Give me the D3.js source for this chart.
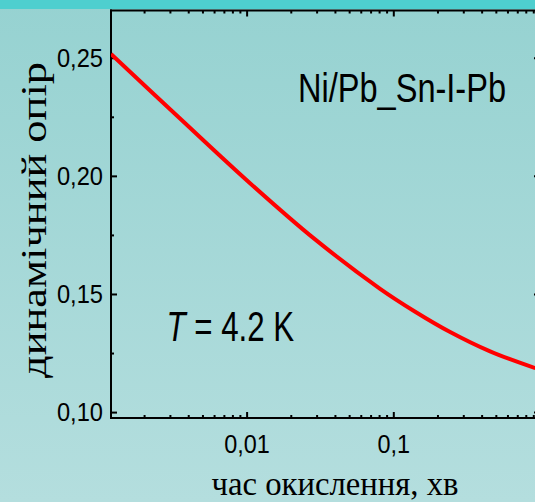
<!DOCTYPE html>
<html><head><meta charset="utf-8">
<script src="https://cdn.jsdelivr.net/npm/d3@7"></script>
<style>html,body{margin:0;padding:0;overflow:hidden;background:#a6d8d8}</style>
</head><body>
<svg id="c" width="535" height="502" xmlns="http://www.w3.org/2000/svg"></svg>
<script>
// ---- data ----
const time = [0.00119, 0.0035, 0.0106, 0.0293, 0.0813, 0.141, 0.244, 0.457, 0.93];
const resistance = [0.2516, 0.2244, 0.1968, 0.1731, 0.1522, 0.1425, 0.1339, 0.1257, 0.1186];
const yMajor = [0.10, 0.15, 0.20, 0.25];
const yMinor = [0.125, 0.175, 0.225];
const yLabels = ["0,10", "0,15", "0,20", "0,25"];
const xMajor = [0.01, 0.1];
const xLabels = ["0,01", "0,1"];
const xMinor = [0.002,0.003,0.004,0.005,0.006,0.007,0.008,0.009,
                0.02,0.03,0.04,0.05,0.06,0.07,0.08,0.09,
                0.2,0.3,0.4,0.5,0.6,0.7,0.8,0.9];
const xTitle = "час окислення, хв";
const yTitle = "динамічний опір";
const sampleLabel = "Ni/Pb_Sn-I-Pb";

const W = 535, H = 502;
const L = 111, R = 540, T = 10.5, B = 418;
const svg = d3.select("#c");

const defs = svg.append("defs");
const g = defs.append("linearGradient").attr("id","bg").attr("x1",0).attr("y1",0).attr("x2",0).attr("y2",1);
g.append("stop").attr("offset","0%").attr("stop-color","#96d2d1");
g.append("stop").attr("offset","100%").attr("stop-color","#b4dede");
svg.append("rect").attr("width",W).attr("height",H).attr("fill","url(#bg)");
svg.append("rect").attr("width",W).attr("height",9).attr("fill","#4ecfcf");

const x = d3.scaleLog().domain([0.00119, 1]).range([L, R]);
const y = d3.scaleLinear().domain([0.0975, 0.27]).range([B, T]);

const sansFont = "'Liberation Sans', Arial, sans-serif";
const serifFont = "'Liberation Serif', 'Times New Roman', serif";

function styleAxis(sel){
  sel.select(".domain").remove();
  sel.selectAll("line").attr("stroke","#000").attr("stroke-width",2);
  sel.selectAll("text").attr("fill","#000").attr("font-family",sansFont).attr("font-size",26);
}
function condense(sel, f){
  sel.selectAll("text").each(function(){
    const w = this.getComputedTextLength();
    if (w>0) d3.select(this).attr("textLength", w*f).attr("lengthAdjust","spacingAndGlyphs");
  });
}

// left axis
const yl = svg.append("g").attr("transform",`translate(${L},0)`)
  .call(d3.axisLeft(y).tickValues(yMajor).tickSize(-6).tickPadding(8)
    .tickFormat((d,i)=>yLabels[i]));
styleAxis(yl); condense(yl, 0.91);
const ylm = svg.append("g").attr("transform",`translate(${L},0)`)
  .call(d3.axisLeft(y).tickValues(yMinor).tickSize(-3).tickFormat(""));
styleAxis(ylm);
// right axis (mostly outside the window, only tick ends show)
const yr = svg.append("g").attr("transform",`translate(${R},0)`)
  .call(d3.axisRight(y).tickValues(yMajor).tickSize(-6).tickFormat(""));
styleAxis(yr);
const yrm = svg.append("g").attr("transform",`translate(${R},0)`)
  .call(d3.axisRight(y).tickValues(yMinor).tickSize(-3).tickFormat(""));
styleAxis(yrm);

// bottom axis
const xb = svg.append("g").attr("transform",`translate(0,${B})`)
  .call(d3.axisBottom(x).tickValues(xMajor).tickSize(-6).tickPadding(17)
    .tickFormat((d,i)=>xLabels[i]));
styleAxis(xb); condense(xb, 0.9);
const xbm = svg.append("g").attr("transform",`translate(0,${B})`)
  .call(d3.axisBottom(x).tickValues(xMinor).tickSize(-3).tickFormat(""));
styleAxis(xbm);
// top axis
const xt = svg.append("g").attr("transform",`translate(0,${T})`)
  .call(d3.axisTop(x).tickValues(xMajor).tickSize(-6).tickFormat(""));
styleAxis(xt);
const xtm = svg.append("g").attr("transform",`translate(0,${T})`)
  .call(d3.axisTop(x).tickValues(xMinor).tickSize(-3).tickFormat(""));
styleAxis(xtm);

// frame lines
svg.append("line").attr("x1",L).attr("x2",L).attr("y1",T-1).attr("y2",B+1).attr("stroke","#000").attr("stroke-width",2);
svg.append("line").attr("x1",L-1).attr("x2",R).attr("y1",B).attr("y2",B).attr("stroke","#000").attr("stroke-width",2);
svg.append("line").attr("x1",L-1).attr("x2",R).attr("y1",T).attr("y2",T).attr("stroke","#000").attr("stroke-width",2);
svg.append("line").attr("x1",R).attr("x2",R).attr("y1",T).attr("y2",B).attr("stroke","#000").attr("stroke-width",2);

// curve
svg.append("defs").append("clipPath").attr("id","clip")
  .append("rect").attr("x",L).attr("y",T).attr("width",R-L).attr("height",B-T);
const line = d3.line().x((d,i)=>x(time[i])).y(d=>y(d)).curve(d3.curveCatmullRom.alpha(0.5));
svg.append("path").datum(resistance).attr("d",line).attr("fill","none")
  .attr("stroke","#ff0000").attr("stroke-width",4).attr("clip-path","url(#clip)");

// texts
function fitText(t, targetW){
  t.attr("textLength", targetW).attr("lengthAdjust","spacingAndGlyphs");
}
const t1 = svg.append("text").attr("x",298).attr("y",101.5)
  .attr("font-family",sansFont).attr("font-size",40).attr("fill","#000").text(sampleLabel);
fitText(t1, 208);

const t2 = svg.append("text").attr("font-family",sansFont).attr("font-size",43).attr("fill","#000");
t2.append("tspan").attr("font-style","italic").text("T");
t2.append("tspan").text(" = 4.2 K");
{
  const bb = t2.node().getBBox();
  const s = 128/bb.width;
  t2.attr("transform",`translate(166.5,341) scale(${s},1)`);
}

const t3 = svg.append("text").attr("x",335).attr("y",495).attr("text-anchor","middle")
  .attr("font-family",serifFont).attr("font-size",33).attr("fill","#000").text(xTitle);
fitText(t3, 247);

const t4 = svg.append("text").attr("transform","translate(46,220) rotate(-90)").attr("text-anchor","middle")
  .attr("font-family",serifFont).attr("font-size",35).attr("fill","#000").text(yTitle);
fitText(t4, 316);
</script>
</body></html>
